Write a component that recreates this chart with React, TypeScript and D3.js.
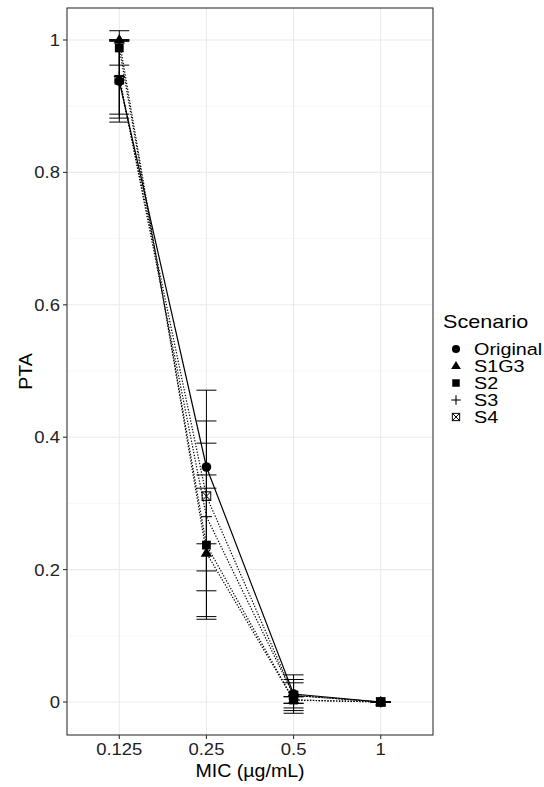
import React from "react";
import * as d3 from "d3";

const categories = ["0.125", "0.25", "0.5", "1"];
const scenarios = ["Original", "S1G3", "S2", "S3", "S4"];
const yTicks = [0, 0.2, 0.4, 0.6, 0.8, 1];
const yMinor = [0.1, 0.3, 0.5, 0.7, 0.9];

const meanOriginal = [0.938, 0.355, 0.012, 0];
const loOriginal = [0.876, 0.239, -0.017, 0];
const hiOriginal = [1.0, 0.471, 0.041, 0];

const meanS1G3 = [1.0, 0.225, 0.003, 0];
const loS1G3 = [1.0, 0.125, -0.002, 0];
const hiS1G3 = [1.0, 0.323, 0.008, 0];

const meanS2 = [0.988, 0.237, 0.003, 0];
const loS2 = [0.962, 0.129, -0.002, 0];
const hiS2 = [1.014, 0.343, 0.008, 0];

const meanS3 = [0.945, 0.28, 0.01, 0];
const loS3 = [0.888, 0.168, -0.009, 0];
const hiS3 = [1.0, 0.391, 0.029, 0];

const meanS4 = [0.94, 0.311, 0.01, 0];
const loS4 = [0.882, 0.198, -0.013, 0];
const hiS4 = [0.998, 0.4245, 0.034, 0];

const seriesData = [
  { name: "Original", mean: meanOriginal, lo: loOriginal, hi: hiOriginal },
  { name: "S1G3", mean: meanS1G3, lo: loS1G3, hi: hiS1G3 },
  { name: "S2", mean: meanS2, lo: loS2, hi: hiS2 },
  { name: "S3", mean: meanS3, lo: loS3, hi: hiS3 },
  { name: "S4", mean: meanS4, lo: loS4, hi: hiS4 },
];

const W = 544;
const H = 787;
const panel = { left: 67, right: 433, top: 8, bottom: 735 };
const FONT = "'Liberation Sans', Arial, sans-serif";
const DARK = "#333333";

function Shape({ name, cx, cy, s = 1 }: { name: string; cx: number; cy: number; s?: number }) {
  if (name === "Original") return <circle cx={cx} cy={cy} r={4.8 * s} fill="black" />;
  if (name === "S1G3") {
    const r = 6 * s;
    const p = d3.path();
    p.moveTo(cx, cy - r);
    p.lineTo(cx + r * 0.95, cy + r * 0.6);
    p.lineTo(cx - r * 0.95, cy + r * 0.6);
    p.closePath();
    return <path d={p.toString()} fill="black" />;
  }
  if (name === "S2") {
    const h = 4.4 * s;
    return <rect x={cx - h} y={cy - h} width={2 * h} height={2 * h} fill="black" />;
  }
  if (name === "S3") {
    const h = 5.5 * s;
    return (
      <g stroke="black" strokeWidth={1.1}>
        <line x1={cx - h} x2={cx + h} y1={cy} y2={cy} />
        <line x1={cx} x2={cx} y1={cy - h} y2={cy + h} />
      </g>
    );
  }
  const h = 4.3 * s;
  return (
    <g stroke="black" strokeWidth={1} fill="none">
      <rect x={cx - h} y={cy - h} width={2 * h} height={2 * h} />
      <line x1={cx - h} y1={cy - h} x2={cx + h} y2={cy + h} />
      <line x1={cx - h} y1={cy + h} x2={cx + h} y2={cy - h} />
    </g>
  );
}

function WideText({ x, y, size, sx = 1.2, anchor = "start", dy, fill = "black", children }: any) {
  return (
    <text
      transform={`translate(${x},${y}) scale(${sx},1)`}
      fontSize={size}
      textAnchor={anchor}
      dy={dy}
      fill={fill}
    >
      {children}
    </text>
  );
}

export default function App() {
  const x = d3
    .scalePoint<string>()
    .domain(categories)
    .range([panel.left, panel.right])
    .padding(0.6);
  const y = d3.scaleLinear().domain([0, 1]).range([702, 40]);

  const line = d3
    .line<number>()
    .x((_, i) => x(categories[i]) as number)
    .y((d) => y(d));

  const capHalf = 10;

  return (
    <svg
      width={W}
      height={H}
      style={{ position: "absolute", left: 0, top: 0, background: "white" }}
      fontFamily={FONT}
    >
      <rect x={0} y={0} width={W} height={H} fill="white" />
      {/* grid */}
      <g>
        {yMinor.map((t) => (
          <line key={"mi" + t} x1={panel.left} x2={panel.right} y1={y(t)} y2={y(t)} stroke="#F2F2F2" strokeWidth={0.6} />
        ))}
        {yTicks.map((t) => (
          <line key={"ma" + t} x1={panel.left} x2={panel.right} y1={y(t)} y2={y(t)} stroke="#EBEBEB" strokeWidth={1.1} />
        ))}
        {categories.map((c) => (
          <line key={"gx" + c} x1={x(c)} x2={x(c)} y1={panel.top} y2={panel.bottom} stroke="#EBEBEB" strokeWidth={1.1} />
        ))}
      </g>
      {/* lines */}
      <g fill="none" stroke="black" strokeWidth={1.2}>
        {seriesData.map((s) => (
          <path
            key={"l" + s.name}
            d={line(s.mean) as string}
            strokeDasharray={s.name === "Original" ? undefined : "1.3 1.6"}
          />
        ))}
      </g>
      {/* error bars */}
      <g stroke="black" strokeWidth={1}>
        {seriesData.map((s) =>
          categories.map((c, i) => {
            const cx = x(c) as number;
            return (
              <g key={"e" + s.name + c}>
                <line x1={cx} x2={cx} y1={y(s.lo[i])} y2={y(s.hi[i])} />
                <line x1={cx - capHalf} x2={cx + capHalf} y1={y(s.lo[i])} y2={y(s.lo[i])} />
                <line x1={cx - capHalf} x2={cx + capHalf} y1={y(s.hi[i])} y2={y(s.hi[i])} />
              </g>
            );
          })
        )}
      </g>
      {/* points */}
      <g>
        {seriesData.map((s) =>
          categories.map((c, i) => (
            <Shape key={"p" + s.name + c} name={s.name} cx={x(c) as number} cy={y(s.mean[i])} />
          ))
        )}
      </g>
      {/* panel border */}
      <rect
        x={panel.left}
        y={panel.top}
        width={panel.right - panel.left}
        height={panel.bottom - panel.top}
        fill="none"
        stroke={DARK}
        strokeWidth={1.1}
      />
      {/* y axis */}
      <g>
        {yTicks.map((t) => (
          <g key={"yt" + t}>
            <line x1={panel.left - 4} x2={panel.left} y1={y(t)} y2={y(t)} stroke={DARK} strokeWidth={1.1} />
            <WideText x={panel.left - 7} y={y(t)} dy="0.36em" anchor="end" size={16.5} sx={1.12} fill="#222">
              {d3.format("~g")(t)}
            </WideText>
          </g>
        ))}
      </g>
      {/* x axis */}
      <g>
        {categories.map((c) => (
          <g key={"xt" + c}>
            <line x1={x(c)} x2={x(c)} y1={panel.bottom} y2={panel.bottom + 4} stroke={DARK} strokeWidth={1.1} />
            <WideText x={x(c)} y={panel.bottom + 20} anchor="middle" size={16.5} sx={1.12} fill="#222">
              {c}
            </WideText>
          </g>
        ))}
      </g>
      <WideText x={(panel.left + panel.right) / 2} y={777} anchor="middle" size={17.5} sx={1.12}>
        MIC (µg/mL)
      </WideText>
      <text
        transform={`translate(${32},${(panel.top + panel.bottom) / 2}) rotate(-90) scale(1.12,1)`}
        textAnchor="middle"
        fontSize={17.5}
        fill="black"
      >
        PTA
      </text>
      {/* legend */}
      <g>
        <WideText x={443} y={328} size={18} sx={1.2}>
          Scenario
        </WideText>
        {scenarios.map((n, i) => {
          const cy = 349 + i * 17;
          return (
            <g key={"lg" + n}>
              <Shape name={n} cx={456} cy={cy} s={0.85} />
              <WideText x={474} y={cy} dy="0.36em" size={16.5} sx={1.2}>
                {n}
              </WideText>
            </g>
          );
        })}
      </g>
    </svg>
  );
}
